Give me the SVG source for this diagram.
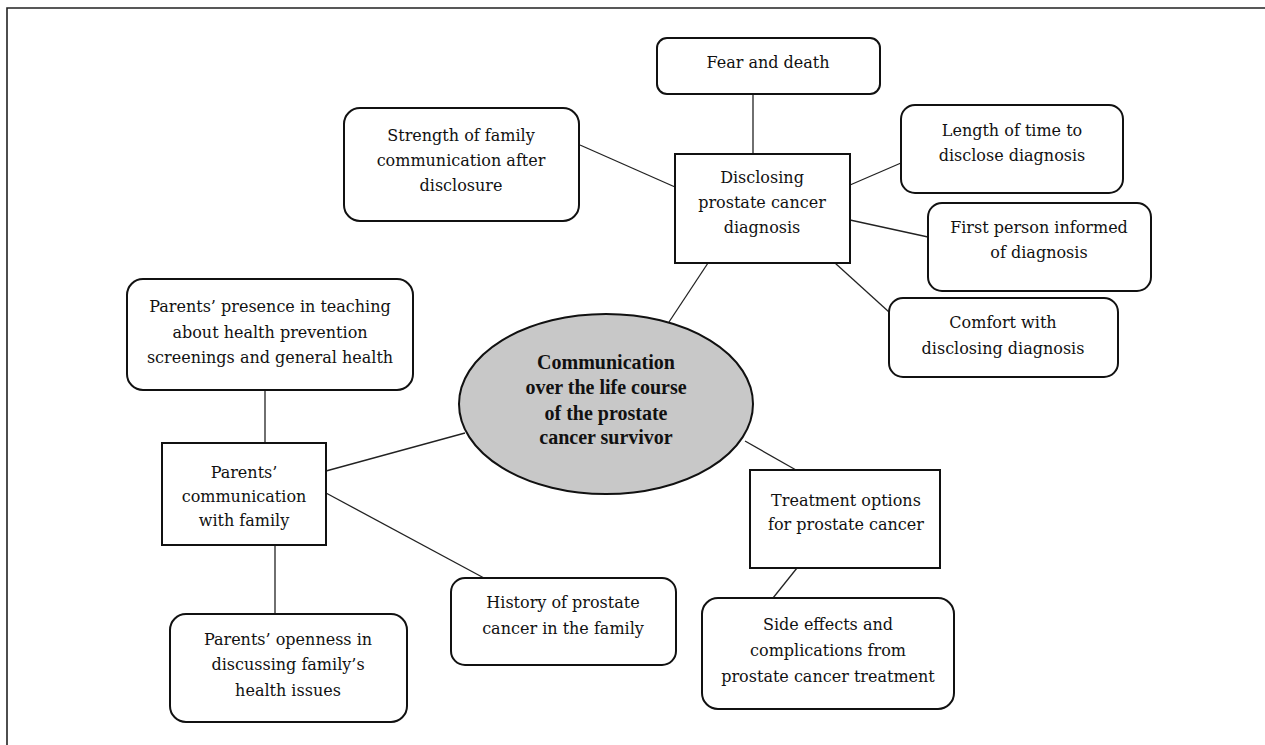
<svg xmlns="http://www.w3.org/2000/svg" width="1265" height="745" viewBox="0 0 1265 745">
<style>
.rb{fill:#fff;stroke:#111;stroke-width:2}
.sq{fill:#fff;stroke:#111;stroke-width:2}
.t{font-family:"DejaVu Serif","Liberation Serif",serif;font-size:16px;fill:#111;text-anchor:middle}
.b{font-family:"Liberation Serif","Times New Roman",serif;font-weight:bold;font-size:20px}
.c{stroke:#222;stroke-width:1.3;fill:none}
</style>
<rect width="1265" height="745" fill="#fff"/>
<path d="M7,745 V8 H1265" fill="none" stroke="#222" stroke-width="1.6"/>
<g id="connectors">
<line class="c" x1="753" y1="94" x2="753" y2="154"/>
<line class="c" x1="580" y1="145" x2="675" y2="187"/>
<line class="c" x1="850" y1="185" x2="901" y2="163"/>
<line class="c" x1="850" y1="220" x2="928" y2="237"/>
<line class="c" x1="835" y1="263" x2="889" y2="312"/>
<line class="c" x1="708" y1="263" x2="669" y2="322"/>
<line class="c" x1="465" y1="433" x2="326" y2="471"/>
<line class="c" x1="265" y1="390" x2="265" y2="443"/>
<line class="c" x1="326" y1="493" x2="484" y2="578"/>
<line class="c" x1="275" y1="545" x2="275" y2="614"/>
<line class="c" x1="745" y1="441" x2="796" y2="470"/>
<line class="c" x1="797" y1="568" x2="773" y2="598"/>
</g>
<g id="fear">
<rect class="rb" x="657" y="38" width="223" height="56" rx="10"/>
<text class="t" x="768" y="68">Fear and death</text>
</g>
<g id="strength">
<rect class="rb" x="344" y="108" width="235" height="113" rx="16"/>
<text class="t" x="461" y="141">Strength of family</text>
<text class="t" x="461" y="166">communication after</text>
<text class="t" x="461" y="191">disclosure</text>
</g>
<g id="disclosing">
<rect class="sq" x="675" y="154" width="175" height="109"/>
<text class="t" x="762" y="183">Disclosing</text>
<text class="t" x="762" y="208">prostate cancer</text>
<text class="t" x="762" y="233">diagnosis</text>
</g>
<g id="length">
<rect class="rb" x="901" y="105" width="222" height="88" rx="14"/>
<text class="t" x="1012" y="136">Length of time to</text>
<text class="t" x="1012" y="161">disclose diagnosis</text>
</g>
<g id="first">
<rect class="rb" x="928" y="203" width="223" height="88" rx="14"/>
<text class="t" x="1039" y="233">First person informed</text>
<text class="t" x="1039" y="258">of diagnosis</text>
</g>
<g id="comfort">
<rect class="rb" x="889" y="298" width="229" height="79" rx="14"/>
<text class="t" x="1003" y="328">Comfort with</text>
<text class="t" x="1003" y="354">disclosing diagnosis</text>
</g>
<g id="presence">
<rect class="rb" x="127" y="279" width="286" height="111" rx="16"/>
<text class="t" x="270" y="312">Parents’ presence in teaching</text>
<text class="t" x="270" y="338">about health prevention</text>
<text class="t" x="270" y="363">screenings and general health</text>
</g>
<g id="center">
<ellipse cx="606" cy="404" rx="147" ry="90" fill="#c8c8c8" stroke="#111" stroke-width="2"/>
<text class="t b" x="606" y="369">Communication</text>
<text class="t b" x="606" y="394">over the life course</text>
<text class="t b" x="606" y="420">of the prostate</text>
<text class="t b" x="606" y="444">cancer survivor</text>
</g>
<g id="parentscomm">
<rect class="sq" x="162" y="443" width="164" height="102"/>
<text class="t" x="244" y="478">Parents’</text>
<text class="t" x="244" y="502">communication</text>
<text class="t" x="244" y="526">with family</text>
</g>
<g id="treatment">
<rect class="sq" x="750" y="470" width="190" height="98"/>
<text class="t" x="846" y="506">Treatment options</text>
<text class="t" x="846" y="530">for prostate cancer</text>
</g>
<g id="sideeffects">
<rect class="rb" x="702" y="598" width="252" height="111" rx="16"/>
<text class="t" x="828" y="630">Side effects and</text>
<text class="t" x="828" y="656">complications from</text>
<text class="t" x="828" y="682">prostate cancer treatment</text>
</g>
<g id="history">
<rect class="rb" x="451" y="578" width="225" height="87" rx="14"/>
<text class="t" x="563" y="608">History of prostate</text>
<text class="t" x="563" y="634">cancer in the family</text>
</g>
<g id="openness">
<rect class="rb" x="170" y="614" width="237" height="108" rx="16"/>
<text class="t" x="288" y="645">Parents’ openness in</text>
<text class="t" x="288" y="670">discussing family’s</text>
<text class="t" x="288" y="696">health issues</text>
</g>
</svg>
